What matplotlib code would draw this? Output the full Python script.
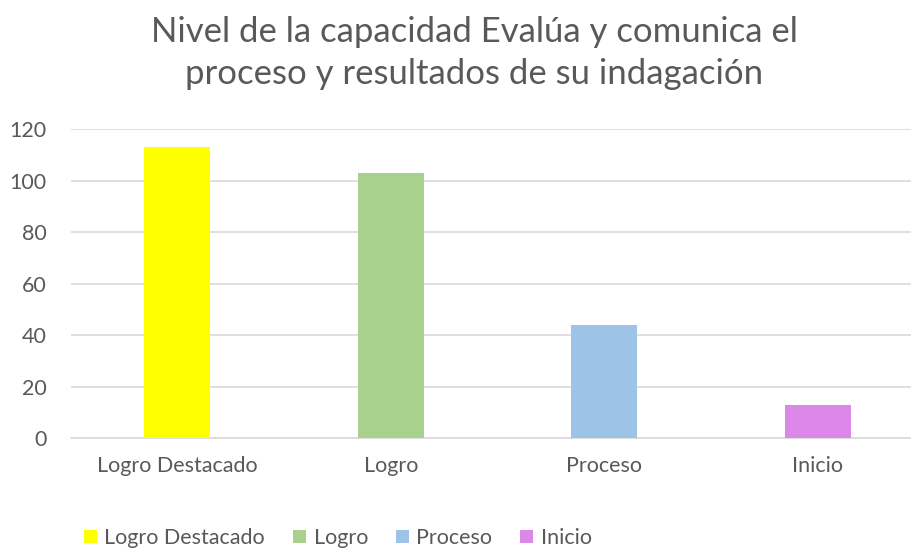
import matplotlib
matplotlib.use('Agg')
import matplotlib.pyplot as plt
from matplotlib.patches import Patch

# data
categories = ['Logro Destacado', 'Logro', 'Proceso', 'Inicio']
values = [113, 103, 44, 13]
colors = ['#FFFF00', '#A9D18E', '#9DC3E6', '#DC88E8']
yticks = [0, 20, 40, 60, 80, 100, 120]

title = 'Nivel de la capacidad Evalúa y comunica el\nproceso y resultados de su indagación'

TXT = '#595959'
GRID = '#D9D9D9'

plt.rcParams['font.family'] = ['Lato', 'DejaVu Sans']

fig = plt.figure(figsize=(9.12, 5.48), dpi=100)
ax = fig.add_axes([70.5 / 912, 1 - 438 / 548, (924.5 - 70.5) / 912, (438 - 129.5) / 548])

x = range(len(categories))
ax.bar(x, values, width=0.31, color=colors, zorder=3)

ax.set_xlim(-0.5, len(categories) - 0.5)
ax.set_ylim(0, 120)
ax.set_yticks(yticks)
ax.set_xticks(list(x))
ax.set_xticklabels(categories)
ax.yaxis.grid(True, color=GRID, linewidth=1.2, zorder=0)
for s in ['top', 'right', 'left']:
    ax.spines[s].set_visible(False)
ax.spines['bottom'].set_color(GRID)
ax.spines['bottom'].set_linewidth(1.2)
ax.tick_params(axis='both', length=0, labelsize=15.5, colors=TXT)
ax.tick_params(axis='y', pad=17)
ax.tick_params(axis='x', pad=13)

fig.text(0.52, 1 - 53 / 548, title, ha='center', va='center', fontsize=25,
         color=TXT, linespacing=1.4)

handles = [Patch(facecolor=c, edgecolor='none') for c in colors]
fig.legend(handles, categories, loc='center left', bbox_to_anchor=(84 / 912, 1 - 538 / 548),
           ncol=4, frameon=False, fontsize=15.5, labelcolor=TXT,
           handlelength=0.6, handleheight=0.6, handletextpad=0.35, columnspacing=1.3,
           borderaxespad=0, borderpad=0)

fig.savefig('out.png', dpi=100)
